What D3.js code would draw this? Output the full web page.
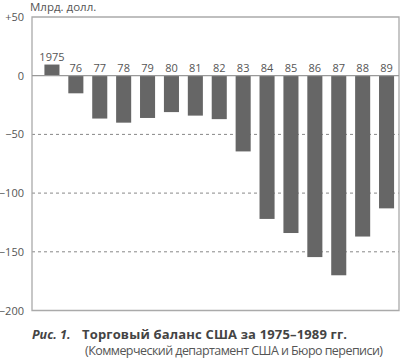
<!DOCTYPE html>
<html>
<head>
<meta charset="utf-8">
<style>
body {margin:0; background:#fff;}
svg {display:block; font-family:"Open Sans", sans-serif;}
</style>
<script src="https://d3js.org/d3.v7.min.js"></script>
</head>
<body>
<div id="chart"></div>
<script>
// data (billions of dollars)
var years = ["1975","76","77","78","79","80","81","82","83","84","85","86","87","88","89"];
var balance = [9.5, -15, -36.5, -40, -36, -31, -34, -37, -64.5, -122, -134, -154.5, -170, -137, -113];
var tickValues = [50, 0, -50, -100, -150, -200];
var tickLabels = ["+50", "0", "\u221250", "\u2212100", "\u2212150", "\u2212200"];

var width = 400, height = 361;

var svg = d3.select("#chart").append("svg")
    .attr("width", width)
    .attr("height", height);

var x = d3.scaleBand()
    .domain(years)
    .range([40, 398.5])
    .paddingInner(0.37)
    .paddingOuter(0.185);

var y = d3.scaleLinear()
    .domain([-200, 50])
    .range([310.5, 17]);

// unit label
svg.append("text")
    .attr("x", 30).attr("y", 10.5)
    .style("font-size", "11.5px")
    .style("fill", "#555")
    .text("Млрд. долл.");

// dashed grid lines
svg.selectAll(".grid")
  .data([-50, -100, -150])
  .enter().append("line")
    .attr("x1", 32).attr("x2", 399)
    .attr("y1", d => y(d)).attr("y2", d => y(d))
    .attr("stroke", "#888")
    .attr("stroke-width", 1)
    .attr("stroke-dasharray", "3,3");

// frame
svg.append("path")
    .attr("d", "M32," + y(50) + "H399V" + y(-200) + "H32Z")
    .attr("fill", "none")
    .attr("stroke", "#aaa")
    .attr("stroke-width", 1.3);

// bars
svg.selectAll(".bar")
  .data(balance)
  .enter().append("rect")
    .attr("x", (d, i) => x(years[i]))
    .attr("width", x.bandwidth())
    .attr("y", d => y(Math.max(0, d)))
    .attr("height", d => Math.abs(y(d) - y(0)))
    .attr("fill", "#666");

// zero line
svg.append("line")
    .attr("x1", 32).attr("x2", 399)
    .attr("y1", y(0)).attr("y2", y(0))
    .attr("stroke", "#999")
    .attr("stroke-width", 1.3);

// year labels
svg.selectAll(".yr")
  .data(balance)
  .enter().append("text")
    .attr("x", (d, i) => x(years[i]) + x.bandwidth() / 2)
    .attr("y", d => (d > 0 ? y(d) : y(0)) - 4)
    .attr("text-anchor", "middle")
    .style("font-size", "11px")
    .style("fill", "#555")
    .text((d, i) => years[i]);

// y tick labels
svg.selectAll(".tick")
  .data(tickValues)
  .enter().append("text")
    .attr("x", 24)
    .attr("y", d => y(d) + 4)
    .attr("text-anchor", "end")
    .style("font-size", "11px")
    .style("fill", "#555")
    .text((d, i) => tickLabels[i]);

// caption
svg.append("text")
    .attr("x", 32).attr("y", 339)
    .style("font-size", "12.5px")
    .style("font-weight", "bold")
    .style("font-style", "italic")
    .style("fill", "#444")
    .text("Рис. 1.");

svg.append("text")
    .attr("x", 82).attr("y", 339)
    .attr("textLength", 265)
    .style("font-size", "13px")
    .style("font-weight", "bold")
    .style("fill", "#444")
    .text("Торговый баланс США за 1975–1989 гг.");

svg.append("text")
    .attr("x", 85).attr("y", 355)
    .attr("textLength", 298)
    .style("font-size", "12.5px")
    .style("fill", "#555")
    .text("(Коммерческий департамент США и Бюро переписи)");
</script>
</body>
</html>
